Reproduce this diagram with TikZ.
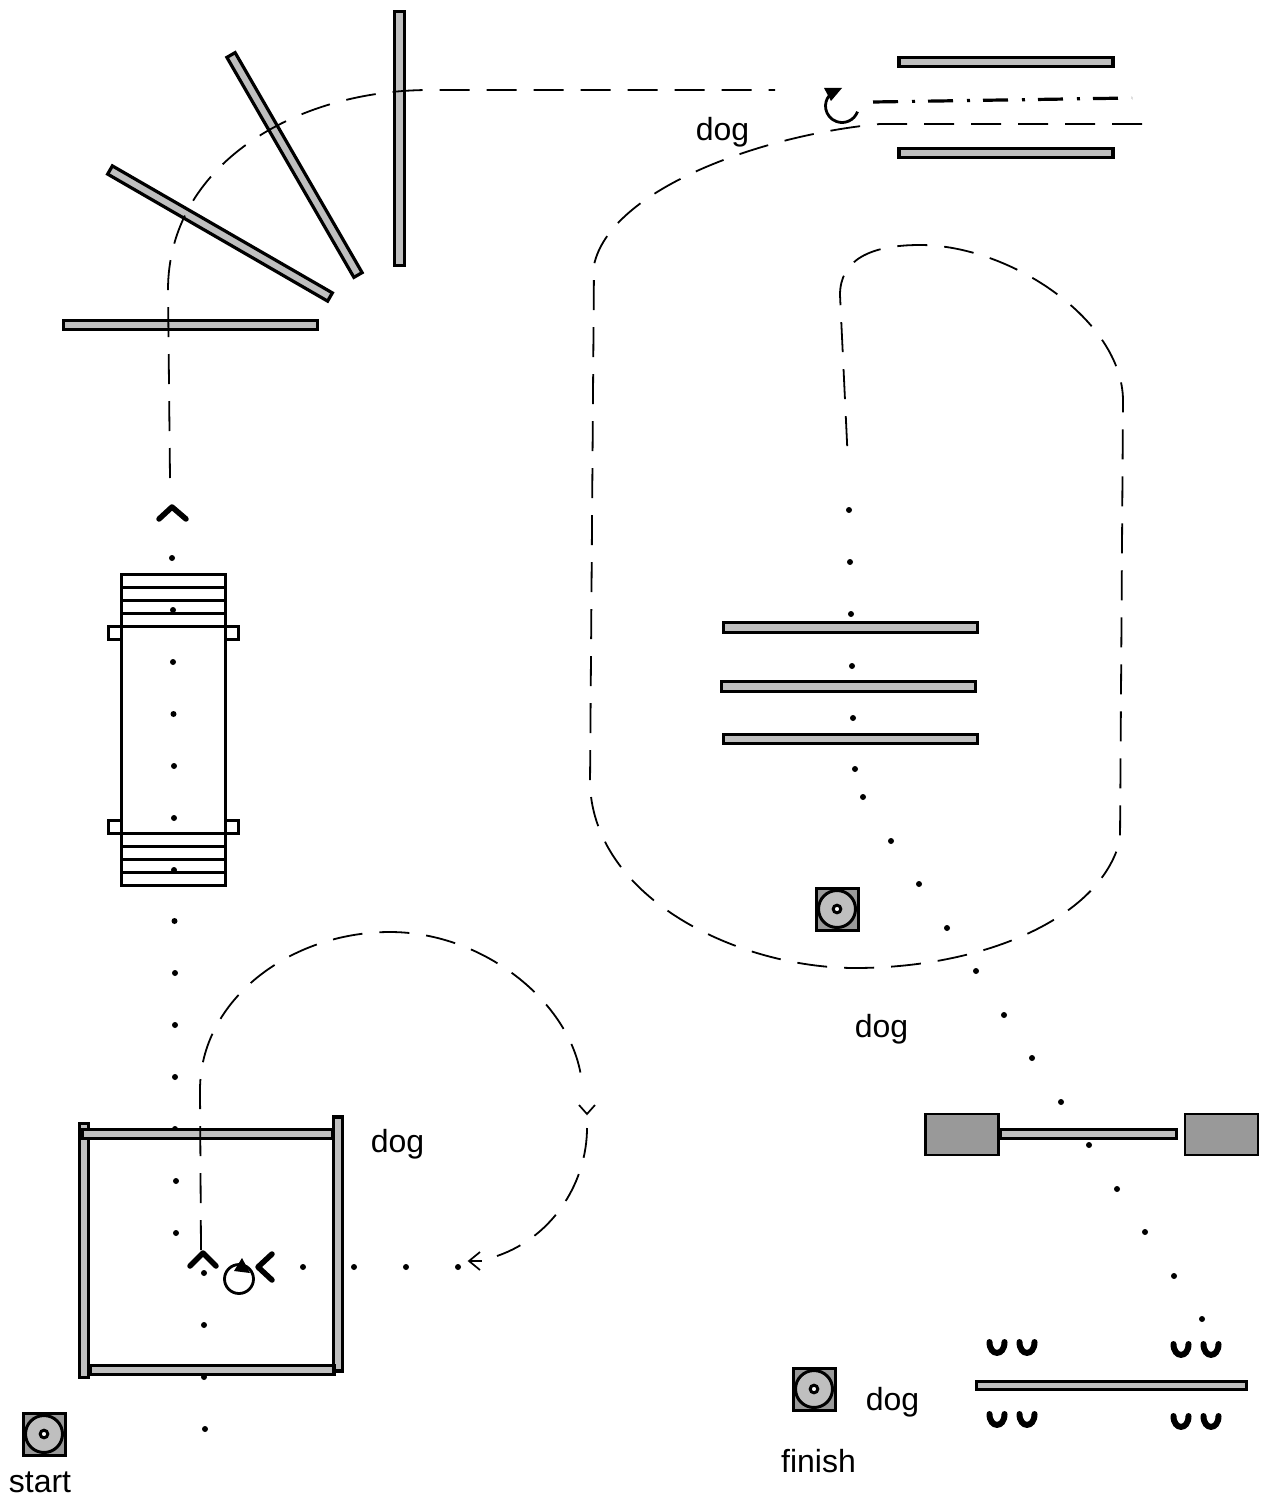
\documentclass[tikz,border=0pt]{standalone}
\usepackage{fontspec}
\setmainfont{Liberation Sans}
\definecolor{bargray}{gray}{0.75}
\definecolor{boxgray}{gray}{0.6}
\tikzset{
   jumpbar/.style={draw, fill=bargray, line width=3.2pt, inner sep=0pt, minimum width=254pt, minimum height=9.5pt},
   seesawbox/.style={draw, fill=boxgray, line width=2.8pt, inner sep=0pt, minimum width=73pt, minimum height=41pt},
   dogpath/.style={line width=1.8pt, dash pattern=on 30pt off 17pt},
   handlerpath/.style={line width=3.2pt, dash pattern=on 25pt off 14pt on 3pt off 13pt},
   rampline/.style={line width=3pt},
   chevron/.style={line width=5.5pt, line cap=round, line join=round},
   thinchevron/.style={line width=1.7pt},
   turnline/.style={line width=2.8pt},
   conestroke/.style={line width=6pt, line cap=round},
   label text/.style={font=\fontsize{32pt}{36pt}\selectfont, inner sep=0pt, anchor=base},
   cone/.pic={\draw[conestroke] (-7.5,-5) .. controls (-7.5,9.5) and (7.5,9.5) .. (7.5,-5);},
   tablemark/.pic={
      \draw[line width=3pt, fill=boxgray] (-21,-21) rectangle (21,21);
      \draw[line width=3pt, fill=bargray] (0,0) circle (18.5);
      \draw[line width=3pt, fill=white] (0,0) circle (3.8);
   }
}
\begin{document}
\begin{tikzpicture}[x=1pt, y=-1pt]
   \def\dotr{3};
   \useasboundingbox (0,0) rectangle (1263,1506);
   % dog's walk between obstacles
   \foreach \px/\py in {172/558,173/610,173/662,173.5/714,174/766,174/818,174/870,174.5/921,175/973,175/1025,175/1077,175/1129,176/1181,176/1233,
      204/1273,204/1325,204/1377,205/1429,303/1267,354/1267,406/1267,458/1267,
      849/510,850/562,851/614,852/666,853/718,855/769,863/797,891/841,919/884,947/928,976/971,1004/1015,1032/1058,1061/1102,1089/1145,1117/1189,1145/1232,1174/1276,1202/1319}
      \fill (\px,\py) circle (\dotr);
   % curved line of jumps
   \node[jumpbar] (jumpA) at (399.5,138.5) [rotate=90] {};
   \node[jumpbar] (jumpB) at (294.5,165) [rotate=-60] {};
   \node[jumpbar] (jumpC) at (220,233.5) [rotate=-30] {};
   \node[jumpbar] (jumpD) at (190.5,325) {};
   % double bars top right
   \node[jumpbar, minimum width=214pt] (wingA) at (1006,62) {};
   \node[jumpbar, minimum width=214pt] (wingB) at (1006,153) {};
   % three bars in the middle
   \node[jumpbar] (barA) at (850.5,627.5) {};
   \node[jumpbar] (barB) at (848.5,686.5) {};
   \node[jumpbar] (barC) at (850.5,739) {};
   % square at the start
   \node[jumpbar] (boxL) at (84,1250.5) [rotate=90] {};
   \node[jumpbar, minimum width=251pt] (boxT) at (207.5,1134) {};
   \node[jumpbar] (boxR) at (338,1244) [rotate=90] {};
   \node[jumpbar, minimum width=244pt] (boxB) at (212,1370) {};
   % seesaw
   \node[jumpbar, minimum width=176pt, minimum height=8.8pt] (plank) at (1088.5,1134) {};
   \node[seesawbox] (seesawL) at (962,1134.5) {};
   \node[seesawbox] (seesawR) at (1221.5,1134.5) {};
   % long bar and its cones
   \node[jumpbar, minimum width=270pt, minimum height=8.2pt] (lowbar) at (1111.5,1385.5) {};
   \foreach \px/\py in {997/1347,1027/1347,1181/1349,1211/1349,997/1419,1027/1419,1181/1421,1211/1421}
      \pic at (\px,\py) {cone};
   % ramp
   \draw[rampline] (121,574) rectangle (225,885);
   \foreach \py in {587,600,613,626,833,846,859,872}
      \draw[rampline] (121,\py) -- (226,\py);
   \draw[rampline] (108,626) rectangle (121,639);
   \draw[rampline] (225,626) rectangle (238,639);
   \draw[rampline] (108,820) rectangle (121,833);
   \draw[rampline] (225,820) rectangle (238,833);
   % tables
   \pic at (44,1434) {tablemark};
   \pic at (837,909) {tablemark};
   \pic at (814,1389) {tablemark};
   % free ends of the paths
   \coordinate (runA) at (170,478);
   \coordinate (runB) at (775,90);
   \coordinate (loopA) at (1142,124);
   \coordinate (loopB) at (848,463);
   \coordinate (roundA) at (201,1250);
   \coordinate (roundB) at (582,1084);
   \coordinate (roundC) at (587,1128);
   \coordinate (roundD) at (497,1256);
   \coordinate (roundE) at (587,1114);
   \coordinate (roundF) at (469,1261);
   \coordinate (callA) at (873,102);
   \coordinate (callB) at (1132,98);
   % dog's dashed lines
   \draw[dogpath] (runA) -- (168,290) .. controls (168,165) and (295,90) .. (430,90) -- (runB);
   \draw[dogpath] (loopA) -- (880,124) .. controls (760,135) and (610,190) .. (594,265) -- (590,785)
      .. controls (595,900) and (740,968) .. (855,968) .. controls (980,968) and (1100,920) .. (1120,840)
      -- (1123,400) .. controls (1122,320) and (1010,245) .. (920,245) .. controls (870,245) and (840,260) .. (840,295) -- (loopB);
   \draw[dogpath] (roundA) -- (200,1090) .. controls (200,1000) and (290,932) .. (390,932) .. controls (485,932) and (575,1005) .. (roundB);
   \draw[dogpath] (roundC) .. controls (587,1180) and (555,1236) .. (roundD);
   \draw[thinchevron] (579,1105) -- (roundE) -- (595,1105);
   \draw[thinchevron] (480,1252) -- (roundF) -- (480,1270);
   \draw[thinchevron] (roundF) -- (482,1261);
   % handler's line
   \draw[handlerpath] (callA) -- (callB);
   % thick chevrons
   \draw[chevron] (159,519) -- (172,507) -- (186,519);
   \draw[chevron] (190,1266) -- (203,1253) -- (216,1266);
   \draw[chevron] (272,1254) -- (258,1267) -- (272,1280);
   % turns
   \draw[turnline] (239,1279) circle (14.5);
   \fill (242,1258) -- (234,1271) -- (250,1273) -- cycle;
   \draw[turnline] (842,106) ++(20:16.5) arc (20:220:16.5);
   \fill (824,88) -- (842,88) -- (831,101) -- cycle;
   % labels
   \node[label text] (dogA) at (722.5,141) {dog};
   \node[label text] (dogB) at (881.5,1037) {dog};
   \node[label text] (dogC) at (397.5,1152) {dog};
   \node[label text] (dogD) at (892.5,1410) {dog};
   \node[label text] (startlabel) at (40,1492) {start};
   \node[label text] (finishlabel) at (818.5,1472) {finish};
\end{tikzpicture}
\end{document}
